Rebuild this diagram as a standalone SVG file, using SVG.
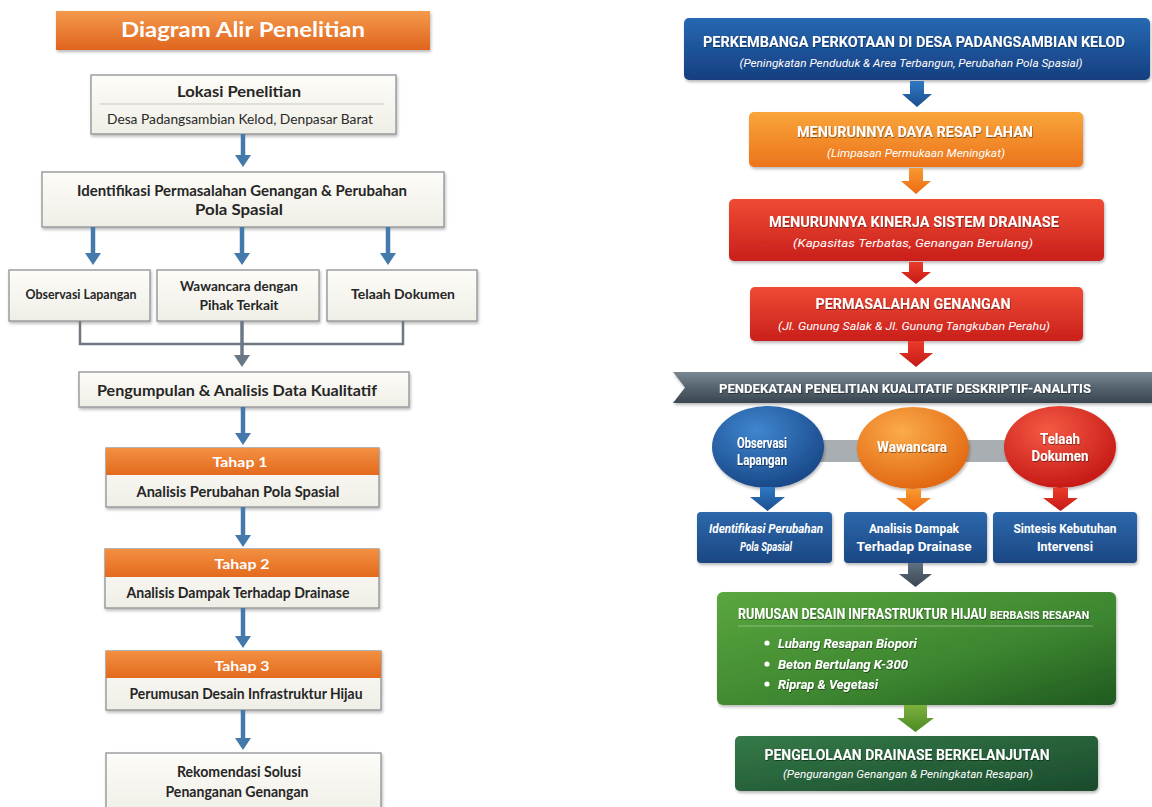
<svg xmlns="http://www.w3.org/2000/svg" width="1152" height="807" viewBox="0 0 1152 807">
<defs>
<filter id="sh" x="-10%" y="-20%" width="120%" height="150%"><feDropShadow dx="1" dy="2" stdDeviation="1.5" flood-color="#000" flood-opacity="0.28"/></filter>
<filter id="tsh" x="-5%" y="-30%" width="110%" height="160%"><feDropShadow dx="0.6" dy="1" stdDeviation="0.5" flood-color="#000" flood-opacity="0.45"/></filter>
<linearGradient id="gTitle" x1="0" y1="0" x2="0" y2="1"><stop offset="0" stop-color="#f49a4c"/><stop offset="1" stop-color="#e0641e"/></linearGradient>
<linearGradient id="gBoxL" x1="0" y1="0" x2="0" y2="1"><stop offset="0" stop-color="#fdfcf8"/><stop offset="1" stop-color="#efeee6"/></linearGradient>
<linearGradient id="gTahap" x1="0" y1="0" x2="0" y2="1"><stop offset="0" stop-color="#f39040"/><stop offset="1" stop-color="#e36a1f"/></linearGradient>
<linearGradient id="gBlue" x1="0" y1="0" x2="0" y2="1"><stop offset="0" stop-color="#2668b2"/><stop offset="1" stop-color="#163f80"/></linearGradient>
<linearGradient id="gOrange" x1="0" y1="0" x2="0" y2="1"><stop offset="0" stop-color="#f9a53a"/><stop offset="1" stop-color="#ec741c"/></linearGradient>
<linearGradient id="gRed" x1="0" y1="0" x2="0" y2="1"><stop offset="0" stop-color="#ef4b35"/><stop offset="1" stop-color="#c91f1b"/></linearGradient>
<linearGradient id="gBanner" x1="0" y1="0" x2="0" y2="1"><stop offset="0" stop-color="#7a8893"/><stop offset="0.5" stop-color="#55636f"/><stop offset="1" stop-color="#3a4651"/></linearGradient>
<radialGradient id="cBlue" cx="0.4" cy="0.3" r="0.75"><stop offset="0" stop-color="#3f86cf"/><stop offset="1" stop-color="#174585"/></radialGradient>
<radialGradient id="cOrange" cx="0.4" cy="0.3" r="0.75"><stop offset="0" stop-color="#fbab4a"/><stop offset="1" stop-color="#e0640f"/></radialGradient>
<radialGradient id="cRed" cx="0.4" cy="0.3" r="0.75"><stop offset="0" stop-color="#f45a44"/><stop offset="1" stop-color="#c41614"/></radialGradient>
<linearGradient id="gBlueBox" x1="0" y1="0" x2="0" y2="1"><stop offset="0" stop-color="#2d68ab"/><stop offset="1" stop-color="#1b4783"/></linearGradient>
<linearGradient id="gGreen" x1="0" y1="0" x2="1" y2="1"><stop offset="0" stop-color="#5aa73e"/><stop offset="0.6" stop-color="#3d8530"/><stop offset="1" stop-color="#1f5a20"/></linearGradient>
<linearGradient id="gDkGreen" x1="0" y1="0" x2="1" y2="1"><stop offset="0" stop-color="#357a48"/><stop offset="1" stop-color="#1a4a2c"/></linearGradient>
<linearGradient id="aBlue" x1="0" y1="0" x2="0" y2="1"><stop offset="0" stop-color="#2e78c2"/><stop offset="1" stop-color="#1b4f90"/></linearGradient>
<linearGradient id="aOrange" x1="0" y1="0" x2="0" y2="1"><stop offset="0" stop-color="#f89a30"/><stop offset="1" stop-color="#ec6a12"/></linearGradient>
<linearGradient id="aRed" x1="0" y1="0" x2="0" y2="1"><stop offset="0" stop-color="#ea3a2a"/><stop offset="1" stop-color="#c41a16"/></linearGradient>
<linearGradient id="aGray" x1="0" y1="0" x2="0" y2="1"><stop offset="0" stop-color="#607080"/><stop offset="1" stop-color="#3a4652"/></linearGradient>
<linearGradient id="aGreen" x1="0" y1="0" x2="0" y2="1"><stop offset="0" stop-color="#7db03e"/><stop offset="1" stop-color="#4a8a22"/></linearGradient>
<marker id="mB" viewBox="0 0 12 16" refX="2" refY="8" markerWidth="12" markerHeight="16" markerUnits="userSpaceOnUse" orient="auto"><path d="M0,0 L12,8 L0,16 Z" fill="#4479ab"/></marker>
<marker id="mG" viewBox="0 0 12 16" refX="2" refY="8" markerWidth="12" markerHeight="16" markerUnits="userSpaceOnUse" orient="auto"><path d="M0,0 L12,8 L0,16 Z" fill="#6a7886"/></marker>
</defs>
<style>
.lbox{fill:url(#gBoxL);stroke:#8f9193;stroke-width:1.3}
.lt{font-family:Lato,"Open Sans",sans-serif;font-weight:700;fill:#262626;text-anchor:middle}
.ln{font-family:Lato,"Open Sans",sans-serif;font-weight:400;fill:#2a2a2a;text-anchor:middle}
.lw{font-family:Lato,"Open Sans",sans-serif;font-weight:700;fill:#ffffff;text-anchor:middle}
.la{stroke:#4479ab;stroke-width:4.5;fill:none;marker-end:url(#mB)}
.rt{font-family:Roboto,"Noto Sans",sans-serif;font-weight:700;fill:#ffffff;text-anchor:middle}
.rt.st{text-anchor:start}
.ri{font-family:Roboto,"Noto Sans",sans-serif;font-weight:400;font-style:italic;fill:#ffffff;text-anchor:middle}
.rbi{font-family:Roboto,"Noto Sans",sans-serif;font-weight:700;font-style:italic;fill:#ffffff;text-anchor:start}
.rbi.mid{text-anchor:middle}
</style>
<rect width="1152" height="807" fill="#ffffff"/>

<!-- LEFT FLOW -->
<g id="title-left">
<rect x="56" y="11" width="374" height="39" fill="url(#gTitle)" filter="url(#sh)"/>
<text class="lw" x="243" y="37" font-size="21" textLength="244" lengthAdjust="spacingAndGlyphs">Diagram Alir Penelitian</text>
</g>
<g id="lokasi">
<rect class="lbox" x="91" y="75" width="305" height="59" filter="url(#sh)"/>
<line x1="100" y1="104" x2="384" y2="104" stroke="#c9c9c4" stroke-width="1"/>
<text class="lt" x="239" y="97" font-size="15" textLength="124" lengthAdjust="spacingAndGlyphs">Lokasi Penelitian</text>
<text class="ln" x="240" y="124" font-size="13.5" textLength="266" lengthAdjust="spacingAndGlyphs">Desa Padangsambian Kelod, Denpasar Barat</text>
</g>
<g id="identifikasi">
<rect class="lbox" x="42" y="172" width="402" height="55" filter="url(#sh)"/>
<text class="lt" x="242" y="196" font-size="15" textLength="330" lengthAdjust="spacingAndGlyphs">Identifikasi Permasalahan Genangan &amp; Perubahan</text>
<text class="lt" x="239" y="215" font-size="15" textLength="88" lengthAdjust="spacingAndGlyphs">Pola Spasial</text>
</g>
<g id="observasi-l">
<rect class="lbox" x="9" y="270" width="141" height="51" filter="url(#sh)"/>
<text class="lt" x="81" y="299" font-size="13.5" textLength="111" lengthAdjust="spacingAndGlyphs">Observasi Lapangan</text>
</g>
<g id="wawancara-l">
<rect class="lbox" x="157" y="270" width="162" height="51" filter="url(#sh)"/>
<text class="lt" x="239" y="291" font-size="13.5" textLength="118" lengthAdjust="spacingAndGlyphs">Wawancara dengan</text>
<text class="lt" x="239" y="310" font-size="13.5" textLength="79" lengthAdjust="spacingAndGlyphs">Pihak Terkait</text>
</g>
<g id="telaah-l">
<rect class="lbox" x="327" y="270" width="150" height="51" filter="url(#sh)"/>
<text class="lt" x="403" y="299" font-size="13.5" textLength="104" lengthAdjust="spacingAndGlyphs">Telaah Dokumen</text>
</g>
<g id="pengumpulan">
<rect class="lbox" x="79" y="372" width="330" height="35" filter="url(#sh)"/>
<text class="lt" x="237" y="396" font-size="15" textLength="280" lengthAdjust="spacingAndGlyphs">Pengumpulan &amp; Analisis Data Kualitatif</text>
</g>
<g id="tahap1">
<rect class="lbox" x="106" y="448" width="273" height="59" filter="url(#sh)"/>
<rect x="106" y="448" width="273" height="27" fill="url(#gTahap)"/>
<text class="lw" x="240" y="467" font-size="14" textLength="55" lengthAdjust="spacingAndGlyphs">Tahap 1</text>
<text class="lt" x="238" y="497" font-size="14.5" textLength="203" lengthAdjust="spacingAndGlyphs">Analisis Perubahan Pola Spasial</text>
</g>
<g id="tahap2">
<rect class="lbox" x="105" y="549" width="274" height="59" filter="url(#sh)"/>
<rect x="105" y="549" width="274" height="28" fill="url(#gTahap)"/>
<text class="lw" x="242" y="569" font-size="14" textLength="55" lengthAdjust="spacingAndGlyphs">Tahap 2</text>
<text class="lt" x="238" y="598" font-size="14.5" textLength="223" lengthAdjust="spacingAndGlyphs">Analisis Dampak Terhadap Drainase</text>
</g>
<g id="tahap3">
<rect class="lbox" x="106" y="651" width="275" height="59" filter="url(#sh)"/>
<rect x="106" y="651" width="275" height="27" fill="url(#gTahap)"/>
<text class="lw" x="242" y="671" font-size="14" textLength="55" lengthAdjust="spacingAndGlyphs">Tahap 3</text>
<text class="lt" x="246" y="699" font-size="14.5" textLength="233" lengthAdjust="spacingAndGlyphs">Perumusan Desain Infrastruktur Hijau</text>
</g>
<g id="rekomendasi">
<rect class="lbox" x="106" y="753" width="275" height="62" filter="url(#sh)"/>
<text class="lt" x="239" y="777" font-size="14.5" textLength="124" lengthAdjust="spacingAndGlyphs">Rekomendasi Solusi</text>
<text class="lt" x="237" y="797" font-size="14.5" textLength="143" lengthAdjust="spacingAndGlyphs">Penanganan Genangan</text>
</g>

<!-- RIGHT FLOW -->
<g id="perkembangan">
<rect x="684" y="18" width="466" height="62" rx="5" fill="url(#gBlue)" filter="url(#sh)"/>
<text class="rt" x="914" y="47" font-size="14.5" textLength="422" lengthAdjust="spacingAndGlyphs" filter="url(#tsh)">PERKEMBANGA PERKOTAAN DI DESA PADANGSAMBIAN KELOD</text>
<text class="ri" x="911" y="67" font-size="11" textLength="343" lengthAdjust="spacingAndGlyphs">(Peningkatan Penduduk &amp; Area Terbangun, Perubahan Pola Spasial)</text>
</g>
<g id="daya-resap">
<rect x="749" y="112" width="334" height="55" rx="5" fill="url(#gOrange)" filter="url(#sh)"/>
<text class="rt" x="915" y="137" font-size="14.5" textLength="236" lengthAdjust="spacingAndGlyphs" filter="url(#tsh)">MENURUNNYA DAYA RESAP LAHAN</text>
<text class="ri" x="916" y="157" font-size="11" textLength="178" lengthAdjust="spacingAndGlyphs">(Limpasan Permukaan Meningkat)</text>
</g>
<g id="kinerja">
<rect x="729" y="199" width="375" height="62" rx="5" fill="url(#gRed)" filter="url(#sh)"/>
<text class="rt" x="914" y="227" font-size="15" textLength="290" lengthAdjust="spacingAndGlyphs" filter="url(#tsh)">MENURUNNYA KINERJA SISTEM DRAINASE</text>
<text class="ri" x="913" y="247" font-size="11.5" textLength="240" lengthAdjust="spacingAndGlyphs">(Kapasitas Terbatas, Genangan Berulang)</text>
</g>
<g id="genangan">
<rect x="750" y="287" width="333" height="54" rx="5" fill="url(#gRed)" filter="url(#sh)"/>
<text class="rt" x="913" y="309" font-size="15" textLength="195" lengthAdjust="spacingAndGlyphs" filter="url(#tsh)">PERMASALAHAN GENANGAN</text>
<text class="ri" x="914" y="330" font-size="11.5" textLength="272" lengthAdjust="spacingAndGlyphs">(Jl. Gunung Salak &amp; Jl. Gunung Tangkuban Perahu)</text>
</g>
<g id="pendekatan">
<path d="M673,372 L1152,372 L1152,403 L673,403 L685,387.5 Z" fill="url(#gBanner)" filter="url(#sh)"/>
<text class="rt" x="905" y="393" font-size="13" textLength="372" lengthAdjust="spacingAndGlyphs" filter="url(#tsh)">PENDEKATAN PENELITIAN KUALITATIF DESKRIPTIF-ANALITIS</text>
</g>
<g id="link-bars">
<rect x="816" y="440" width="48" height="22" fill="#a9aeb3"/>
<rect x="962" y="440" width="48" height="22" fill="#a9aeb3"/>
</g>
<g id="observasi-r">
<ellipse cx="768" cy="447" rx="56" ry="41" fill="url(#cBlue)" filter="url(#sh)"/>
<text class="rt" x="762" y="448" font-size="14.5" textLength="50" lengthAdjust="spacingAndGlyphs" filter="url(#tsh)">Observasi</text>
<text class="rt" x="762" y="465" font-size="14.5" textLength="50" lengthAdjust="spacingAndGlyphs" filter="url(#tsh)">Lapangan</text>
</g>
<g id="wawancara-r">
<ellipse cx="913" cy="448" rx="56" ry="41" fill="url(#cOrange)" filter="url(#sh)"/>
<text class="rt" x="912" y="452" font-size="14.5" textLength="70" lengthAdjust="spacingAndGlyphs" filter="url(#tsh)">Wawancara</text>
</g>
<g id="telaah-r">
<ellipse cx="1060" cy="447" rx="56" ry="41" fill="url(#cRed)" filter="url(#sh)"/>
<text class="rt" x="1060" y="444" font-size="14.5" textLength="40" lengthAdjust="spacingAndGlyphs" filter="url(#tsh)">Telaah</text>
<text class="rt" x="1060" y="461" font-size="14.5" textLength="57" lengthAdjust="spacingAndGlyphs" filter="url(#tsh)">Dokumen</text>
</g>
<g id="identifikasi-r">
<rect x="697" y="512" width="135" height="51" rx="4" fill="url(#gBlueBox)" filter="url(#sh)"/>
<text class="rbi mid" x="766" y="533" font-size="12.5" textLength="114" lengthAdjust="spacingAndGlyphs">Identifikasi Perubahan</text>
<text class="rbi mid" x="766" y="551" font-size="12.5" textLength="52" lengthAdjust="spacingAndGlyphs">Pola Spasial</text>
</g>
<g id="analisis-r">
<rect x="844" y="512" width="143" height="51" rx="4" fill="url(#gBlueBox)" filter="url(#sh)"/>
<text class="rt" x="914" y="533" font-size="12.5" textLength="90" lengthAdjust="spacingAndGlyphs">Analisis Dampak</text>
<text class="rt" x="914" y="551" font-size="12.5" textLength="115" lengthAdjust="spacingAndGlyphs">Terhadap Drainase</text>
</g>
<g id="sintesis-r">
<rect x="993" y="512" width="144" height="51" rx="4" fill="url(#gBlueBox)" filter="url(#sh)"/>
<text class="rt" x="1065" y="533" font-size="12.5" textLength="103" lengthAdjust="spacingAndGlyphs">Sintesis Kebutuhan</text>
<text class="rt" x="1065" y="551" font-size="12.5">Intervensi</text>
</g>
<g id="rumusan">
<rect x="717" y="592" width="399" height="113" rx="6" fill="url(#gGreen)" filter="url(#sh)"/>
<g transform="translate(738,619) scale(0.8,1)" filter="url(#tsh)">
<text class="rt st" x="0" y="0" font-size="14.5" textLength="311" lengthAdjust="spacingAndGlyphs">RUMUSAN DESAIN INFRASTRUKTUR HIJAU</text>
<text class="rt st" x="315" y="0" font-size="11.5" textLength="124" lengthAdjust="spacingAndGlyphs">BERBASIS RESAPAN</text>
</g>
<line x1="738" y1="626" x2="1093" y2="626" stroke="#ffffff" stroke-opacity="0.35" stroke-width="1"/>
<circle cx="767" cy="643" r="2.6" fill="#ffffff"/>
<circle cx="767" cy="664" r="2.6" fill="#ffffff"/>
<circle cx="767" cy="684" r="2.6" fill="#ffffff"/>
<text class="rbi" x="778" y="648" font-size="13.5" textLength="139" lengthAdjust="spacingAndGlyphs" filter="url(#tsh)">Lubang Resapan Biopori</text>
<text class="rbi" x="778" y="669" font-size="13.5" textLength="130" lengthAdjust="spacingAndGlyphs" filter="url(#tsh)">Beton Bertulang K-300</text>
<text class="rbi" x="778" y="689" font-size="13.5" textLength="100" lengthAdjust="spacingAndGlyphs" filter="url(#tsh)">Riprap &amp; Vegetasi</text>
</g>
<g id="pengelolaan">
<rect x="735" y="736" width="363" height="55" rx="5" fill="url(#gDkGreen)" filter="url(#sh)"/>
<text class="rt" x="907" y="760" font-size="15" textLength="285" lengthAdjust="spacingAndGlyphs" filter="url(#tsh)">PENGELOLAAN DRAINASE BERKELANJUTAN</text>
<text class="ri" x="908" y="778" font-size="11" textLength="250" lengthAdjust="spacingAndGlyphs">(Pengurangan Genangan &amp; Peningkatan Resapan)</text>
</g>

<!-- CONNECTORS -->
<g id="connectors">
<line class="la" x1="243" y1="134" x2="243" y2="157"/>
<line class="la" x1="93" y1="227" x2="93" y2="255"/>
<line class="la" x1="242" y1="227" x2="242" y2="255"/>
<line class="la" x1="388" y1="227" x2="388" y2="255"/>
<polyline points="80,321 80,344 403,344 403,321" fill="none" stroke="#6f7780" stroke-width="2.5"/>
<line x1="242" y1="321" x2="242" y2="357" stroke="#6a7886" stroke-width="3.5" marker-end="url(#mG)"/>
<line class="la" x1="243" y1="407" x2="243" y2="435"/>
<line class="la" x1="243" y1="507" x2="243" y2="537"/>
<line class="la" x1="243" y1="608" x2="243" y2="638"/>
<line class="la" x1="243" y1="710" x2="243" y2="740"/>
<path d="M910,81 L924,81 L924,94 L932,94 L917,107 L902,94 L910,94 Z" fill="url(#aBlue)"/>
<path d="M909,168 L923,168 L923,181 L931,181 L916,194 L901,181 L909,181 Z" fill="url(#aOrange)"/>
<path d="M909,262 L923,262 L923,272 L931,272 L916,284 L901,272 L909,272 Z" fill="url(#aRed)"/>
<path d="M908,341 L924,341 L924,353 L933,353 L916,367 L899,353 L908,353 Z" fill="url(#aRed)"/>
<path d="M760,487 L775,487 L775,497 L785,497 L767.5,511 L750,497 L760,497 Z" fill="url(#aBlue)"/>
<path d="M906,489 L921,489 L921,498 L931,498 L913.5,511 L896,498 L906,498 Z" fill="url(#aOrange)"/>
<path d="M1053,488 L1068,488 L1068,498 L1078,498 L1060.5,511 L1043,498 L1053,498 Z" fill="url(#aRed)"/>
<path d="M908,563 L923,563 L923,574 L932,574 L915.5,587 L899,574 L908,574 Z" fill="url(#aGray)"/>
<path d="M904,705 L927,705 L927,718 L934,718 L915.5,732 L897,718 L904,718 Z" fill="url(#aGreen)"/>
</g>
</svg>
